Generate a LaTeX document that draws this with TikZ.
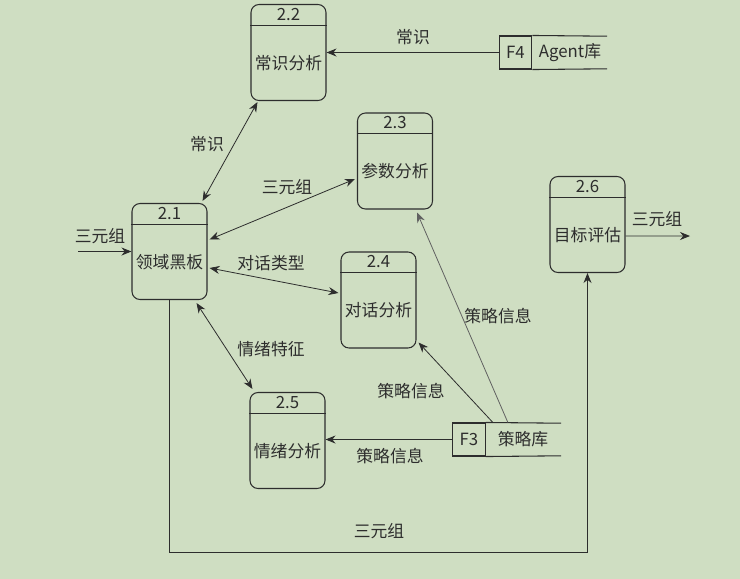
\documentclass[tikz,border=0pt]{standalone}
\usepackage{fontspec}
\setmainfont{Noto Sans CJK SC}
\usetikzlibrary{arrows.meta}
\definecolor{bg}{RGB}{207,222,194}
\definecolor{ink}{RGB}{45,45,45}
\tikzset{
  proc/.style={draw=ink, line width=0.8pt, rounded corners=6pt, minimum width=56.25pt, minimum height=72pt, inner sep=0pt},
  cell/.style={draw=ink, line width=0.8pt, minimum width=24.5pt, minimum height=24.75pt, inner sep=0pt},
  lbl/.style={text=ink, font=\fontsize{12.6}{14}\selectfont, inner sep=1pt},
  arr/.style={draw=ink, line width=0.6pt, -{Stealth[length=7.5pt,width=6pt]}},
  arrb/.style={draw=ink, line width=0.6pt, {Stealth[length=7.5pt,width=6pt]}-{Stealth[length=7.5pt,width=6pt]}},
}
\newcommand\procbox[5]{%
  \node[proc] (#1) at (#2,#3) {};
  \draw[ink, line width=0.7pt] ([yshift=-15.75pt]#1.north west) -- ([yshift=-15.75pt]#1.north east);
  \node[lbl] (#1n) at ([yshift=-7.9pt]#1.north) {#4};
  \node[lbl] (#1t) at ([yshift=-7.9pt]#1.center) {#5};
}
\begin{document}
\begin{tikzpicture}[x=0.75pt,y=-0.75pt]
\fill[bg] (0,0) rectangle (740,579);
\useasboundingbox (0,0) rectangle (740,579);

\procbox{p21}{169.5}{251.5}{2.1}{领域黑板}
\procbox{p22}{288.5}{52.5}{2.2}{常识分析}
\procbox{p23}{395}{161}{2.3}{参数分析}
\procbox{p24}{378.5}{300}{2.4}{对话分析}
\procbox{p25}{287.5}{440.5}{2.5}{情绪分析}
\procbox{p26}{587.5}{224.5}{2.6}{目标评估}

% data stores
\node[cell] (f4) at (515.5,52.5) {};
\node[lbl] (f4n) at (f4) {F4};
\node[lbl] (f4t) at (570,52.5) {Agent库};
\coordinate (f4a) at (607,36.2);
\coordinate (f4b) at (607,68.8);
\draw[ink, line width=0.8pt] (f4.north east) -- (f4a);
\draw[ink, line width=0.8pt] (f4.south east) -- (f4b);

\node[cell] (f3) at (469,439.5) {};
\node[lbl] (f3n) at (f3) {F3};
\node[lbl] (f3t) at (523,439.5) {策略库};
\coordinate (f3a) at (561,423.2);
\coordinate (f3b) at (561,455.8);
\draw[ink, line width=0.8pt] (f3.north east) -- (f3a);
\draw[ink, line width=0.8pt] (f3.south east) -- (f3b);

% connectors
\draw[arr] (f4.west) -- (p22.east |- f4.west);
\node[lbl] (l1) at (413,37) {常识};

\draw[arrb] ([shift={(-5,-2)}]p21.north east) -- ([shift={(7,1)}]p22.south west);
\node[lbl] (l2) at (207,144) {常识};

\draw[arrb] ([shift={(2,-12)}]p21.east) -- ([shift={(-2,18)}]p23.west);
\node[lbl] (l3) at (287,187) {三元组};

\draw[arrb] ([shift={(2,16.5)}]p21.east) -- ([shift={(-2,-7)}]p24.west);
\node[lbl] (l4) at (271,263) {对话类型};

\draw[arrb] ([shift={(-11,3)}]p21.south east) -- ([shift={(3,-3)}]p25.north west);
\node[lbl] (l5) at (271,349) {情绪特征};

\coordinate (in0) at (78,251.5);
\draw[arr] (in0) -- (p21.west);
\node[lbl] (l6) at (100,236) {三元组};

\coordinate (out0) at (690,236);
\draw[arr] ([yshift=-8.6pt]p26.east) -- (out0);
\node[lbl] (l7) at (657,219) {三元组};

\draw[arr] (f3.west) -- (p25.east |- f3.west);
\node[lbl] (l8) at (390,456) {策略信息};

\draw[arr] ([xshift=5.25pt]f3.north east) -- ([shift={(2,-6)}]p24.south east);
\node[lbl] (l9) at (411,391) {策略信息};

\draw[arr, draw=ink!75] ([xshift=16.5pt]f3.north east) -- ([shift={(-16,3)}]p23.south east);
\node[lbl] (l10) at (498,316) {策略信息};

\coordinate (b1) at (169.5,552);
\draw[arr] (p21.south) -- (b1) -| (p26.south);
\node[lbl] (l11) at (379,531) {三元组};
\end{tikzpicture}
\end{document}
